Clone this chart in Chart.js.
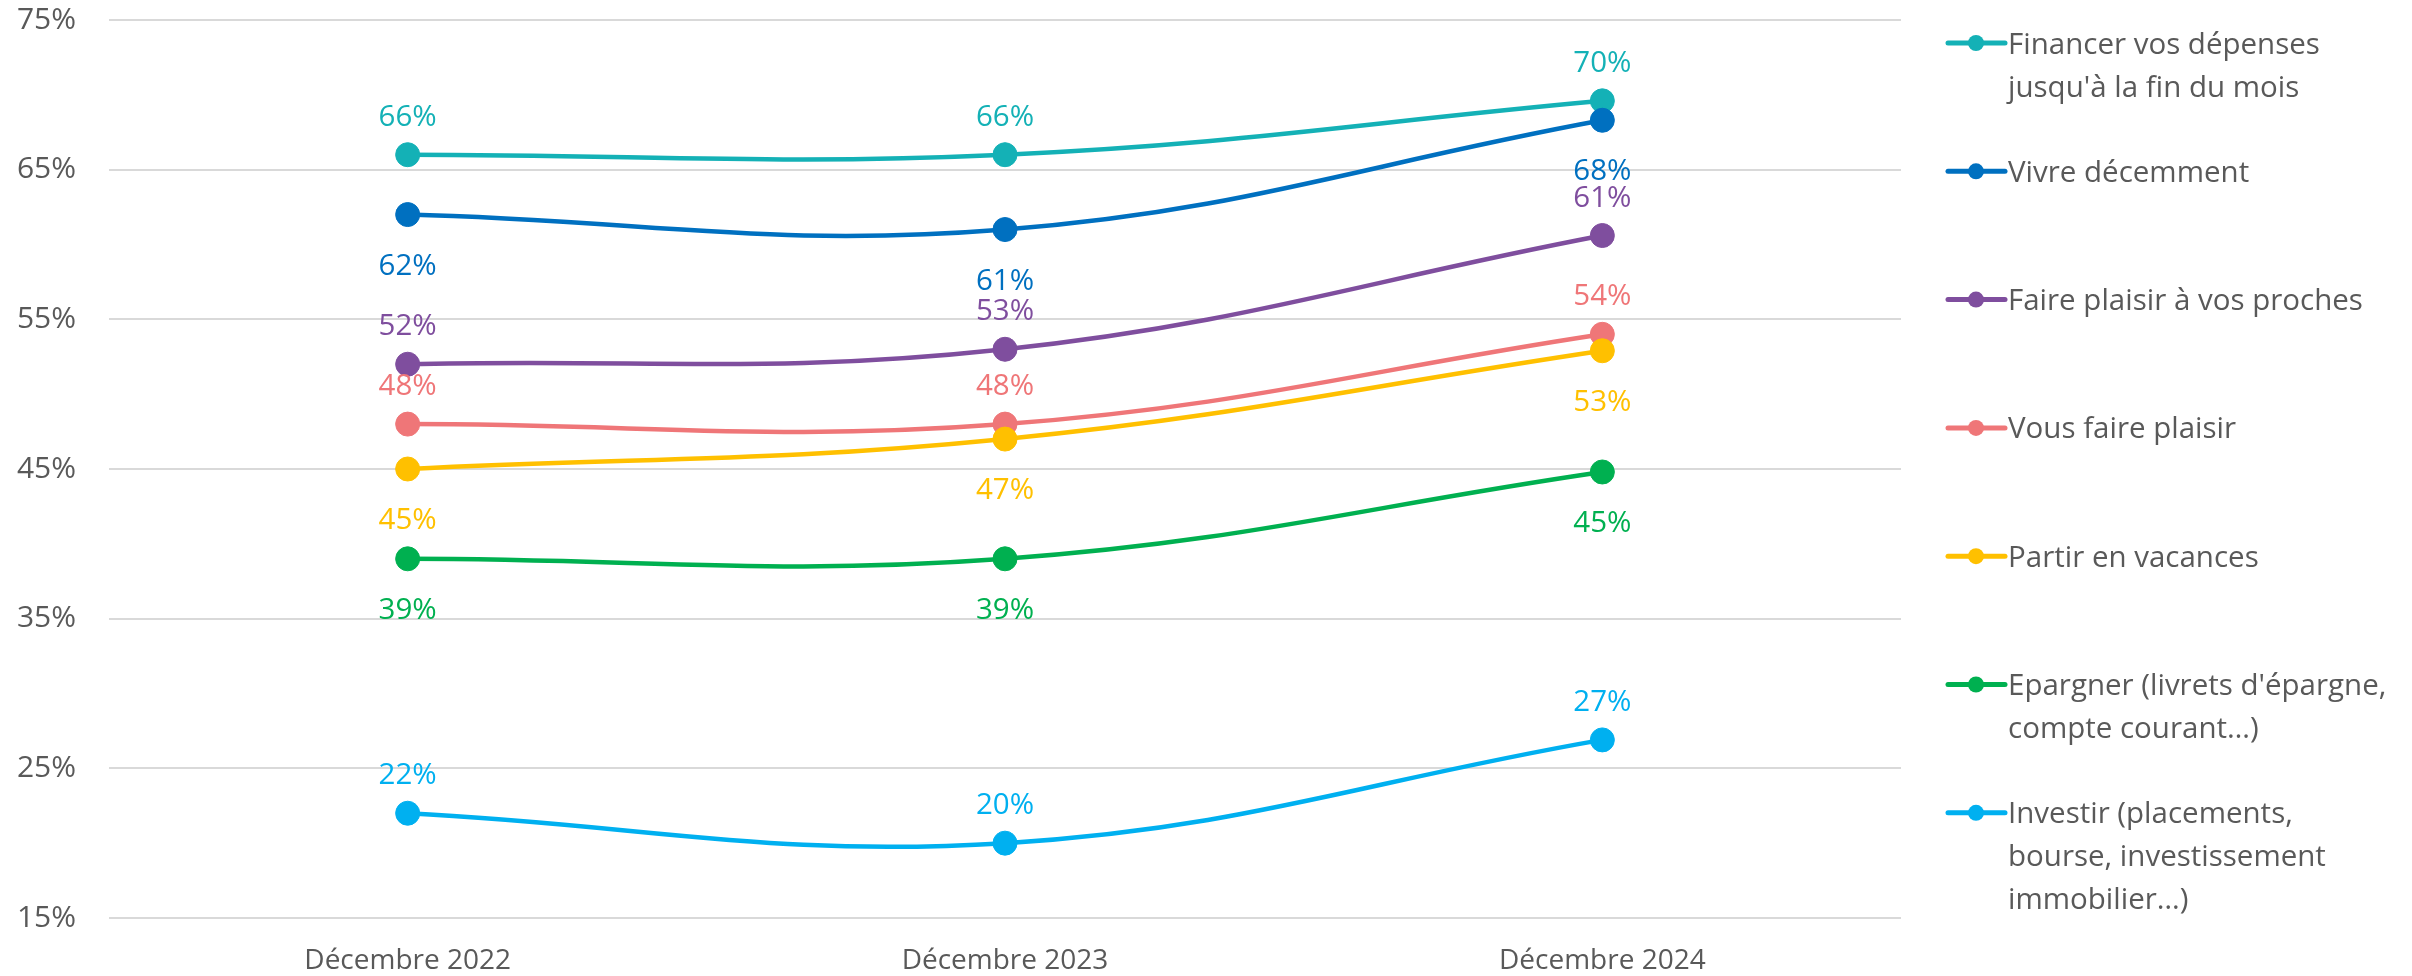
<!DOCTYPE html>
<html><head><meta charset="utf-8">
<script src="https://cdn.jsdelivr.net/npm/chart.js@4/dist/chart.umd.min.js"></script>
<style>html,body{margin:0;padding:0;background:#fff}#wrap{width:2412px;height:976px;position:relative}</style>
</head><body><div id="wrap"><canvas id="c" width="2412" height="976"></canvas></div>
<script>
const categories = ['Décembre 2022', 'Décembre 2023', 'Décembre 2024'];
const yTickValues = [15, 25, 35, 45, 55, 65, 75];
const financer = [66.0, 66.0, 69.6];
const vivre = [62.0, 61.0, 68.3];
const proches = [52.0, 53.0, 60.6];
const vousPlaisir = [48.0, 48.0, 54.0];
const vacances = [45.0, 47.0, 52.9];
const epargner = [39.0, 39.0, 44.8];
const investir = [22.0, 20.0, 26.9];
const seriesNames = [
  "Financer vos dépenses jusqu'à la fin du mois",
  "Vivre décemment",
  "Faire plaisir à vos proches",
  "Vous faire plaisir",
  "Partir en vacances",
  "Epargner (livrets d'épargne, compte courant…)",
  "Investir (placements, bourse, investissement immobilier…)"
];
const legendLines = [
  ["Financer vos dépenses", "jusqu'à la fin du mois"],
  ["Vivre décemment"],
  ["Faire plaisir à vos proches"],
  ["Vous faire plaisir"],
  ["Partir en vacances"],
  ["Epargner (livrets d'épargne,", "compte courant…)"],
  ["Investir (placements,", "bourse, investissement", "immobilier…)"]
];
const seriesValues = [financer, vivre, proches, vousPlaisir, vacances, epargner, investir];
const seriesColors = ['#14B1B6', '#0070C0', '#7F4E9E', '#EF7678', '#FFC000', '#00B050', '#00B0F0'];
const labelPositions = ['above', 'below', 'above', 'above', 'below', 'below', 'above'];

const FONT = "'Open Sans', 'Noto Sans', sans-serif";
const FS_X = 28, FS_Y = 30, FS_LBL = 29.5, FS_LEG = 29.5;
const GREY = '#595959';

const datasets = seriesValues.map((vals, i) => ({
  label: seriesNames[i],
  data: vals,
  borderColor: seriesColors[i],
  backgroundColor: seriesColors[i],
  pointBackgroundColor: seriesColors[i],
  pointBorderColor: seriesColors[i],
  borderWidth: 4.5,
  pointRadius: 12,
  pointHoverRadius: 12,
  pointBorderWidth: 1,
  tension: 0.4,
  order: -i,
  labelPos: labelPositions[i]
}));

const dataLabels = {
  id: 'dataLabels',
  afterDatasetsDraw(chart) {
    const ctx = chart.ctx;
    ctx.save();
    ctx.font = FS_LBL + 'px ' + FONT;
    ctx.textAlign = 'center';
    ctx.textBaseline = 'alphabetic';
    chart.data.datasets.forEach((ds, di) => {
      const meta = chart.getDatasetMeta(di);
      meta.data.forEach((pt, j) => {
        const txt = Math.round(ds.data[j]) + '%';
        const y = ds.labelPos === 'above' ? pt.y - 29 : pt.y + 60;
        ctx.fillStyle = ds.borderColor;
        ctx.fillText(txt, pt.x, y);
      });
    });
    ctx.restore();
  }
};

const sideLegend = {
  id: 'sideLegend',
  afterDraw(chart) {
    const ctx = chart.ctx;
    const area = chart.chartArea;
    const x0 = area.right + 47, x1 = area.right + 104, xm = area.right + 75, xt = area.right + 107;
    const y0 = 43, step = 128.3, lineH = 43;
    ctx.save();
    ctx.font = FS_LEG + 'px ' + FONT;
    ctx.textAlign = 'left';
    ctx.textBaseline = 'alphabetic';
    chart.data.datasets.forEach((ds, i) => {
      const y = y0 + i * step;
      ctx.strokeStyle = ds.borderColor;
      ctx.lineWidth = 5;
      ctx.lineCap = 'round';
      ctx.beginPath(); ctx.moveTo(x0, y); ctx.lineTo(x1, y); ctx.stroke();
      ctx.fillStyle = ds.borderColor;
      ctx.beginPath(); ctx.arc(xm, y, 8, 0, Math.PI * 2); ctx.fill();
      ctx.fillStyle = GREY;
      legendLines[i].forEach((ln, k) => ctx.fillText(ln, xt, y + 10.5 + k * lineH));
    });
    ctx.restore();
  }
};

new Chart(document.getElementById('c'), {
  type: 'line',
  data: { labels: categories, datasets },
  options: {
    responsive: false,
    animation: false,
    layout: { padding: { top: 20, right: 511, left: 0, bottom: 0 } },
    plugins: { legend: { display: false }, tooltip: { enabled: false } },
    scales: {
      x: {
        offset: true,
        grid: { display: false },
        border: { display: false },
        ticks: { color: GREY, font: { family: FONT, size: FS_X }, padding: 18, maxRotation: 0 },
        afterFit(s) { s.height = 58; s.paddingLeft = 0; s.paddingRight = 0; }
      },
      y: {
        min: 15, max: 75,
        afterBuildTicks(s) { s.ticks = yTickValues.map(v => ({ value: v })); },
        grid: { color: '#D9D9D9', lineWidth: 2, drawTicks: false },
        border: { display: false },
        ticks: { color: GREY, font: { family: FONT, size: FS_Y }, padding: 33, callback: v => v + '%' },
        afterFit(s) { s.width = 109; s.paddingTop = 0; s.paddingBottom = 0; }
      }
    }
  },
  plugins: [dataLabels, sideLegend]
});
</script></body></html>
